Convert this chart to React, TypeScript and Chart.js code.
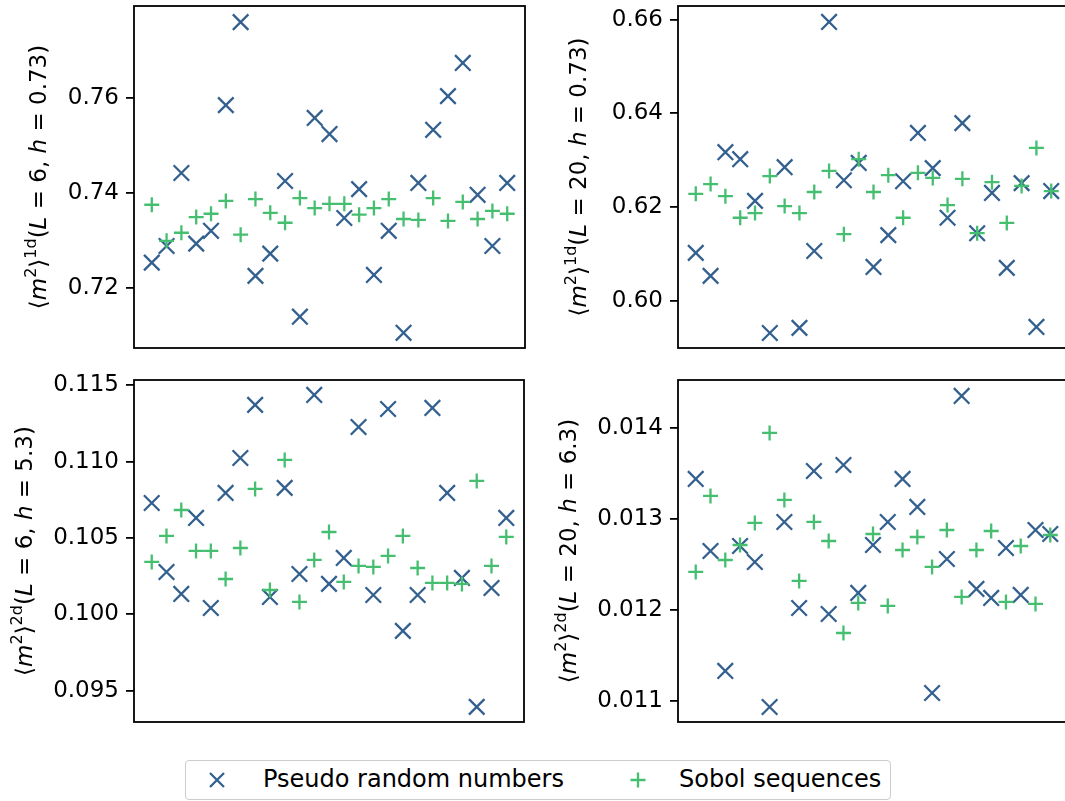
import React, { useEffect, useRef } from 'react';
import { Chart, registerables } from 'chart.js';

Chart.register(...registerables);

// ---------------- data ----------------
const sampleIndex = [0, 1, 2, 3, 4, 5, 6, 7, 8, 9, 10, 11, 12, 13, 14, 15, 16, 17, 18, 19, 20, 21, 22, 23, 24];

// top-left: <m^2>^1d (L = 6, h = 0.73)
const pseudoTL = [0.7253, 0.7288, 0.7442, 0.7293, 0.7320, 0.7585, 0.7760, 0.7225, 0.7272, 0.7425, 0.7139, 0.7558, 0.7524, 0.7347, 0.7408, 0.7227, 0.7320, 0.7105, 0.7421, 0.7533, 0.7604, 0.7674, 0.7396, 0.7288, 0.7421];
const sobolTL = [0.7375, 0.7299, 0.7316, 0.7349, 0.7356, 0.7383, 0.7312, 0.7387, 0.7358, 0.7337, 0.7389, 0.7368, 0.7377, 0.7377, 0.7354, 0.7368, 0.7387, 0.7345, 0.7343, 0.7389, 0.7341, 0.7381, 0.7345, 0.7362, 0.7356];

// top-right: <m^2>^1d (L = 20, h = 0.73)
const pseudoTR = [0.6102, 0.6053, 0.6317, 0.6302, 0.6213, 0.5931, 0.6285, 0.5942, 0.6106, 0.6595, 0.6257, 0.6294, 0.6072, 0.6140, 0.6255, 0.6358, 0.6283, 0.6177, 0.6379, 0.6144, 0.6230, 0.6070, 0.6251, 0.5944, 0.6234];
const sobolTR = [0.6228, 0.6249, 0.6223, 0.6177, 0.6187, 0.6266, 0.6202, 0.6187, 0.6232, 0.6277, 0.6142, 0.6302, 0.6232, 0.6268, 0.6177, 0.6273, 0.6262, 0.6204, 0.6260, 0.6144, 0.6253, 0.6166, 0.6245, 0.6326, 0.6234];

// bottom-left: <m^2>^2d (L = 6, h = 5.3)
const pseudoBL = [0.10729, 0.10277, 0.10133, 0.10631, 0.10041, 0.10795, 0.11024, 0.11372, 0.10113, 0.10828, 0.10264, 0.11437, 0.10199, 0.10369, 0.11227, 0.10126, 0.11345, 0.09891, 0.10126, 0.11352, 0.10795, 0.10238, 0.09393, 0.10172, 0.10631];
const sobolBL = [0.10343, 0.10513, 0.10683, 0.10415, 0.10415, 0.10231, 0.10434, 0.10821, 0.10159, 0.11011, 0.10081, 0.10356, 0.10539, 0.10212, 0.10317, 0.10310, 0.10382, 0.10513, 0.10303, 0.10205, 0.10205, 0.10199, 0.10874, 0.10317, 0.10507];

// bottom-right: <m^2>^2d (L = 20, h = 6.3)
const pseudoBR = [0.013440, 0.012648, 0.011330, 0.012703, 0.012527, 0.010934, 0.012967, 0.012022, 0.013527, 0.011956, 0.013593, 0.012187, 0.012714, 0.012967, 0.013440, 0.013132, 0.011088, 0.012560, 0.014352, 0.012231, 0.012132, 0.012681, 0.012165, 0.012879, 0.012835];
const sobolBR = [0.012418, 0.013253, 0.012549, 0.012714, 0.012956, 0.013945, 0.013209, 0.012319, 0.012967, 0.012758, 0.011747, 0.012077, 0.012835, 0.012044, 0.012659, 0.012802, 0.012473, 0.012879, 0.012143, 0.012659, 0.012868, 0.012088, 0.012703, 0.012066, 0.012824];

const ticksTL = [0.72, 0.74, 0.76];
const tickLabelsTL = ['0.72', '0.74', '0.76'];
const ticksTR = [0.60, 0.62, 0.64, 0.66];
const tickLabelsTR = ['0.60', '0.62', '0.64', '0.66'];
const ticksBL = [0.095, 0.100, 0.105, 0.110, 0.115];
const tickLabelsBL = ['0.095', '0.100', '0.105', '0.110', '0.115'];
const ticksBR = [0.011, 0.012, 0.013, 0.014];
const tickLabelsBR = ['0.011', '0.012', '0.013', '0.014'];

const seriesNames = ['Pseudo random numbers', 'Sobol sequences'];

// rich y-axis labels: [text, kind] where kind: n = normal, i = italic, s = superscript
const labelTL: [string, string][] = [['⟨', 'n'], ['m', 'i'], ['2', 's'], ['⟩', 'n'], ['1d', 's'], ['(', 'n'], ['L', 'i'], [' = 6, ', 'n'], ['h', 'i'], [' = 0.73)', 'n']];
const labelTR: [string, string][] = [['⟨', 'n'], ['m', 'i'], ['2', 's'], ['⟩', 'n'], ['1d', 's'], ['(', 'n'], ['L', 'i'], [' = 20, ', 'n'], ['h', 'i'], [' = 0.73)', 'n']];
const labelBL: [string, string][] = [['⟨', 'n'], ['m', 'i'], ['2', 's'], ['⟩', 'n'], ['2d', 's'], ['(', 'n'], ['L', 'i'], [' = 6, ', 'n'], ['h', 'i'], [' = 5.3)', 'n']];
const labelBR: [string, string][] = [['⟨', 'n'], ['m', 'i'], ['2', 's'], ['⟩', 'n'], ['2d', 's'], ['(', 'n'], ['L', 'i'], [' = 20, ', 'n'], ['h', 'i'], [' = 6.3)', 'n']];

// ---------------- style ----------------
const FONT = '"DejaVu Sans", sans-serif';
const FS = 23;
const LEGEND_FS = 24;
const BLUE = '#33608f';
const GREEN = '#45bf6f';
const LW = 1.8;

const panels = [
  { key: 'tl', left: 0, top: 0, width: 540, height: 360, yw: 134, pad: { top: 6, right: 15, bottom: 12, left: 0 }, min: 0.7073, max: 0.7794, ticks: ticksTL, tickLabels: tickLabelsTL, label: labelTL, labelX: 46, pseudo: pseudoTL, sobol: sobolTL },
  { key: 'tr', left: 540, top: 0, width: 540, height: 360, yw: 138, pad: { top: 6, right: 11, bottom: 12, left: 0 }, min: 0.5899, max: 0.6629, ticks: ticksTR, tickLabels: tickLabelsTR, label: labelTR, labelX: 46, pseudo: pseudoTR, sobol: sobolTR },
  { key: 'bl', left: 0, top: 365, width: 540, height: 370, yw: 134, pad: { top: 15, right: 16, bottom: 13, left: 0 }, min: 0.09294, max: 0.11535, ticks: ticksBL, tickLabels: tickLabelsBL, label: labelBL, labelX: 32, pseudo: pseudoBL, sobol: sobolBL },
  { key: 'br', left: 540, top: 365, width: 540, height: 370, yw: 138, pad: { top: 15, right: 12, bottom: 13, left: 0 }, min: 0.010769, max: 0.014527, ticks: ticksBR, tickLabels: tickLabelsBR, label: labelBR, labelX: 36, pseudo: pseudoBR, sobol: sobolBR },
];

const boxPlugin = {
  id: 'frameBox',
  afterDatasetsDraw(chart: any) {
    const { ctx, chartArea: a } = chart;
    ctx.save();
    ctx.strokeStyle = '#000';
    ctx.lineWidth = LW;
    ctx.strokeRect(a.left, a.top, a.right - a.left, a.bottom - a.top);
    ctx.restore();
  },
};

const labelPlugin = {
  id: 'richYLabel',
  afterDraw(chart: any, _args: any, opts: any) {
    const parts: [string, string][] = opts.parts;
    if (!parts) return;
    const { ctx, chartArea: a } = chart;
    const cy = (a.top + a.bottom) / 2;
    const fontFor = (k: string) =>
      k === 'i' ? `italic ${FS}px ${FONT}` : k === 's' ? `${Math.round(FS * 0.7)}px ${FONT}` : `${FS}px ${FONT}`;
    ctx.save();
    let total = 0;
    const widths = parts.map(([t, k]) => {
      ctx.font = fontFor(k);
      const w = ctx.measureText(t).width;
      total += w;
      return w;
    });
    ctx.translate(opts.x, cy);
    ctx.rotate(-Math.PI / 2);
    ctx.fillStyle = '#000';
    ctx.textBaseline = 'alphabetic';
    ctx.textAlign = 'left';
    let pos = -total / 2;
    parts.forEach(([t, k], i) => {
      ctx.font = fontFor(k);
      ctx.fillText(t, pos, k === 's' ? -FS * 0.42 : 0);
      pos += widths[i];
    });
    ctx.restore();
  },
};

function Panel({ p }: { p: any }) {
  const ref = useRef<HTMLCanvasElement>(null);
  useEffect(() => {
    if (!ref.current) return;
    const chart = new Chart(ref.current, {
      type: 'scatter',
      data: {
        datasets: [
          {
            label: seriesNames[0],
            data: sampleIndex.map((x, i) => ({ x, y: p.pseudo[i] })),
            pointStyle: 'crossRot',
            pointRadius: 11,
            pointBorderWidth: 2.3,
            borderColor: BLUE,
            backgroundColor: BLUE,
            order: 1,
          },
          {
            label: seriesNames[1],
            data: sampleIndex.map((x, i) => ({ x, y: p.sobol[i] })),
            pointStyle: 'cross',
            pointRadius: 7.5,
            pointBorderWidth: 2.3,
            borderColor: GREEN,
            backgroundColor: GREEN,
            order: 0,
          },
        ],
      },
      options: {
        responsive: false,
        animation: false,
        devicePixelRatio: 1,
        layout: { padding: p.pad, autoPadding: false },
        plugins: {
          legend: { display: false },
          tooltip: { enabled: false },
          richYLabel: { parts: p.label, x: p.labelX },
        } as any,
        scales: {
          x: { type: 'linear', min: -1.2, max: 25.2, display: false },
          y: {
            type: 'linear',
            min: p.min,
            max: p.max,
            afterFit: (s: any) => {
              s.width = p.yw;
              s.paddingTop = 0;
              s.paddingBottom = 0;
            },
            afterBuildTicks: (s: any) => {
              s.ticks = p.ticks.map((v: number) => ({ value: v }));
            },
            ticks: {
              autoSkip: false,
              padding: 7,
              color: '#000',
              font: { family: FONT, size: FS },
              callback: (v: any) => {
                let best = 0;
                p.ticks.forEach((t: number, i: number) => {
                  if (Math.abs(t - v) < Math.abs(p.ticks[best] - v)) best = i;
                });
                return p.tickLabels[best];
              },
            },
            grid: { display: true, drawOnChartArea: false, drawTicks: true, tickLength: 8, color: '#000', lineWidth: LW },
            border: { display: false },
          },
        },
      },
      plugins: [boxPlugin, labelPlugin],
    });
    return () => chart.destroy();
  }, [p]);
  return (
    <canvas
      ref={ref}
      width={p.width}
      height={p.height}
      style={{ position: 'absolute', left: p.left, top: p.top, width: p.width, height: p.height }}
    />
  );
}

function LegendMarkX() {
  return (
    <svg width={18} height={18} style={{ position: 'absolute', left: 22, top: 10 }}>
      <path d="M2,2 L16,16 M16,2 L2,16" stroke={BLUE} strokeWidth={2.3} />
    </svg>
  );
}
function LegendMarkPlus() {
  return (
    <svg width={18} height={18} style={{ position: 'absolute', left: 443, top: 10 }}>
      <path d="M9,1.5 L9,16.5 M1.5,9 L16.5,9" stroke={GREEN} strokeWidth={2.3} />
    </svg>
  );
}

export default function App() {
  return (
    <div style={{ position: 'absolute', left: 0, top: 0, width: 1065, height: 801, overflow: 'hidden', background: '#fff' }}>
      {panels.map((p) => (
        <Panel key={p.key} p={p} />
      ))}
      <div
        style={{
          position: 'absolute',
          left: 185,
          top: 760,
          width: 704,
          height: 38,
          border: '1.5px solid #cccccc',
          borderRadius: 4,
          background: '#fff',
          fontFamily: FONT,
          fontSize: LEGEND_FS,
          color: '#000',
        }}
      >
        <LegendMarkX />
        <span style={{ position: 'absolute', left: 77, top: 4, whiteSpace: 'nowrap', lineHeight: '28px' }}>{seriesNames[0]}</span>
        <LegendMarkPlus />
        <span style={{ position: 'absolute', left: 493, top: 4, whiteSpace: 'nowrap', lineHeight: '28px' }}>{seriesNames[1]}</span>
      </div>
    </div>
  );
}
